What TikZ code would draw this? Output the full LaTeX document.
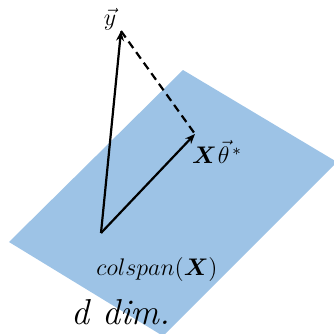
\documentclass[tikz,border=0pt]{standalone}
\usepackage{amsmath,amssymb}
\usepackage{bm}
\usetikzlibrary{arrows.meta,positioning}
\definecolor{planeblue}{RGB}{157,195,230}

\begin{document}
\begin{tikzpicture}[x=0.5pt,y=-0.5pt,
    vec/.style={-{Stealth[length=5pt,width=4pt]}, line width=1.1pt},
    lbl/.style={font=\fontsize{12}{14}\selectfont, inner sep=0pt}]
    \useasboundingbox (0,0) rectangle (334,334);
    \clip (0,0) rectangle (334,334);

    % the plane
    \fill[planeblue] (9,242) -- (183,70) -- (337,162) -- (163,336) -- cycle;

    \coordinate (O) at (101,233);
    \coordinate (Y) at (121,31);
    \coordinate (P) at (195,134);

    \draw[vec] (O) -- (Y);
    \draw[vec] (O) -- (P);
    \draw[line width=1.1pt, dash pattern=on 4pt off 2.5pt] (Y) -- (P);

    \node[lbl] (ylab) at (110,19) {$\vec{y}$};
    \node[lbl] (plab) at (217,152) {$\boldsymbol{X}\mkern1mu\vec{\theta}^{\,*}$};
    \node[lbl] (span) at (157,269) {$colspan(\boldsymbol{X})$};
    \node[font=\fontsize{18}{20}\selectfont\itshape, inner sep=0pt] (dim) at (121,312) {d dim.};
\end{tikzpicture}
\end{document}
